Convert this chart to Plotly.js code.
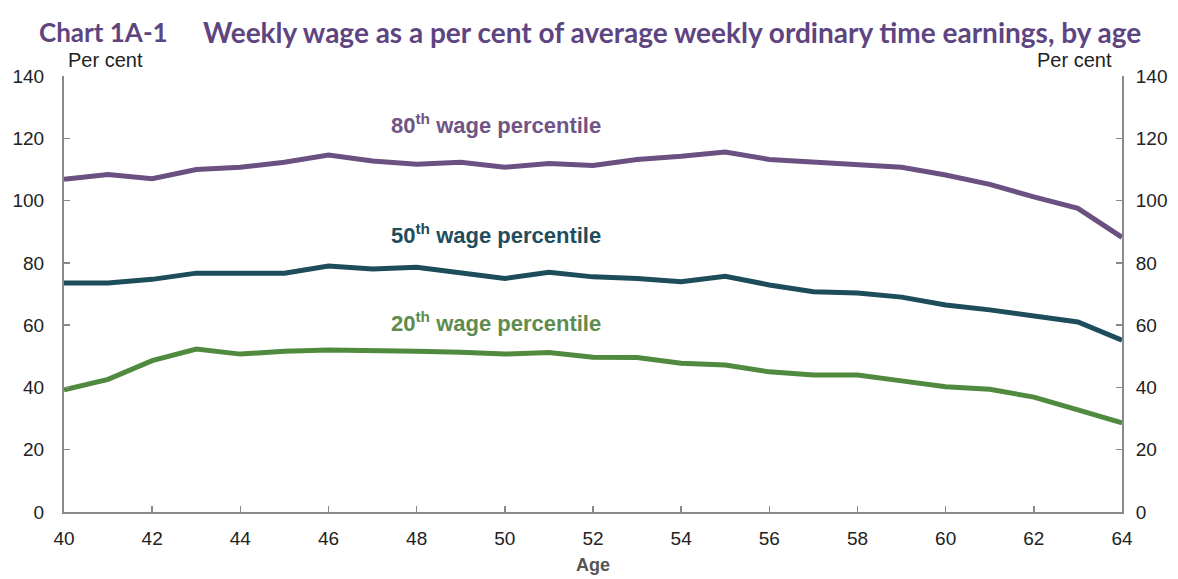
<!DOCTYPE html>
<html>
<head>
<meta charset="utf-8">
<script src="https://cdn.plot.ly/plotly-3.0.1.min.js"></script>
<style>html,body{margin:0;padding:0;background:#fff;}#chart{width:1178px;height:579px;}</style>
</head>
<body>
<div id="chart"></div>
<script>
var ages = [40,41,42,43,44,45,46,47,48,49,50,51,52,53,54,55,56,57,58,59,60,61,62,63,64];
var p80 = [106.8,108.4,107,110,110.7,112.3,114.6,112.7,111.7,112.3,110.7,111.9,111.3,113.2,114.2,115.6,113.2,112.3,111.3,110.7,108.2,105.2,101.2,97.5,88.2];
var p50 = [73.5,73.5,74.7,76.7,76.7,76.7,79,78,78.6,77,75,77,75.5,75,73.9,75.7,72.9,70.7,70.3,69,66.5,64.9,62.9,61,55.2];
var p20 = [39.2,42.6,48.6,52.3,50.7,51.6,52,52,51.6,51.3,50.7,51.2,49.7,49.6,47.8,47.2,45,44,44,42.1,40.2,39.4,36.9,32.8,28.6];
var seriesNames = ["80<sup>th</sup> wage percentile","50<sup>th</sup> wage percentile","20<sup>th</sup> wage percentile"];
var seriesColors = ["#6b5082","#1d4c5b","#4f8a3f"];
var labelColors = ["#6e5585","#1f4d5c","#5e8c4e"];
var labelY = [124.5, 89.3, 61];
var titleLead = "Chart 1A-1";
var titleMain = "Weekly wage as a per cent of average weekly ordinary time earnings, by age";
var yTicks = [0,20,40,60,80,100,120,140];
var xTicks = [40,42,44,46,48,50,52,54,56,58,60,62,64];

var W = 1178, H = 579, L = 64, R = 56, T = 76, B = 67;
var pw = W - L - R, ph = H - T - B;
function px(x){ return (x - L) / pw; }
function py(y){ return (H - B - y) / ph; }

var data = [p80,p50,p20].map(function(v,i){
  return {x: ages, y: v, type:'scatter', mode:'lines', name: seriesNames[i],
    line:{color: seriesColors[i], width:5}, showlegend:false, hoverinfo:'skip'};
});

var arial = 'Liberation Sans, Arial, sans-serif';
var tickFont = {family:arial, size:19, color:'#222'};
var annotations = seriesNames.map(function(t,i){
  return {x:49.8, y:labelY[i], xref:'x', yref:'y', text:'<b>'+t+'</b>', showarrow:false,
    font:{family:arial, size:22, color:labelColors[i]}, xanchor:'center', yanchor:'middle'};
});
annotations.push({x:px(37), y:py(32), xref:'paper', yref:'paper', xanchor:'left', yanchor:'middle', showarrow:false,
  text:'<b>'+titleLead+'</b>', font:{family:'Lato, Open Sans, sans-serif', size:26, color:'#5e4581'}});
annotations.push({x:px(201), y:py(32), xref:'paper', yref:'paper', xanchor:'left', yanchor:'middle', showarrow:false,
  text:'<b>'+titleMain+'</b>', font:{family:'Lato, Open Sans, sans-serif', size:28, color:'#5e4581'}});
annotations.push({x:px(66), y:py(60), xref:'paper', yref:'paper', xanchor:'left', yanchor:'middle', showarrow:false,
  text:'Per cent', font:{family:arial, size:20, color:'#222'}});
annotations.push({x:px(1114), y:py(60), xref:'paper', yref:'paper', xanchor:'right', yanchor:'middle', showarrow:false,
  text:'Per cent', font:{family:arial, size:20, color:'#222'}});

var axisCommon = {showgrid:false, zeroline:false, showline:true, linecolor:'#8a8a8a', linewidth:2,
  ticks:'inside', ticklen:6, tickwidth:1.5, tickcolor:'#8a8a8a', tickfont:tickFont, fixedrange:true};

var layout = {
  width:W, height:H,
  margin:{l:L, r:R, t:T, b:B},
  paper_bgcolor:'#fff', plot_bgcolor:'#fff',
  xaxis: Object.assign({}, axisCommon, {range:[40,64], tickmode:'array', tickvals:xTicks, ticklabelstandoff:8,
    title:{text:'<b>Age</b>', font:{family:arial, size:18, color:'#555'}, standoff:11}}),
  yaxis: Object.assign({}, axisCommon, {range:[0,140], tickmode:'array', tickvals:yTicks, ticklabelstandoff:14}),
  yaxis2: Object.assign({}, axisCommon, {range:[0,140], tickmode:'array', tickvals:yTicks, overlaying:'y', side:'right', anchor:'x', ticklabelstandoff:8}),
  annotations: annotations
};
data.push({x:[40], y:[0], yaxis:'y2', type:'scatter', mode:'markers', marker:{opacity:0}, showlegend:false, hoverinfo:'skip'});

Plotly.newPlot('chart', data, layout, {displayModeBar:false, staticPlot:true});
</script>
</body>
</html>
